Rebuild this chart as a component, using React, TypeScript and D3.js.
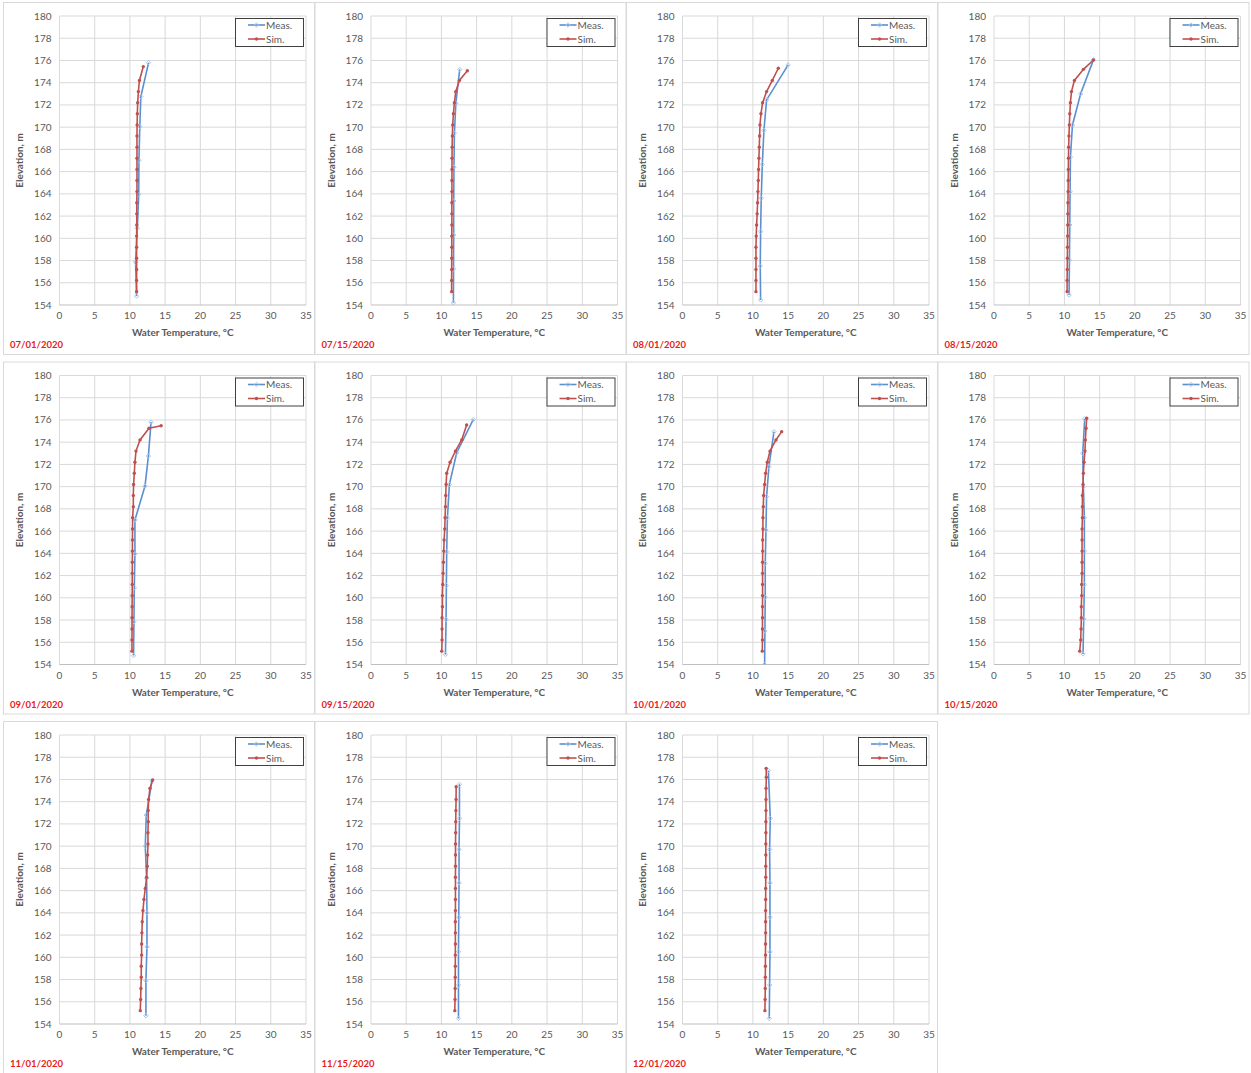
import React from "react";
import * as d3 from "d3";

const DATES = ["07/01/2020","07/15/2020","08/01/2020","08/15/2020","09/01/2020","09/15/2020","10/01/2020","10/15/2020","11/01/2020","11/15/2020","12/01/2020"];

const X_TICKS = [0,5,10,15,20,25,30,35];
const Y_TICKS = [154,156,158,160,162,164,166,168,170,172,174,176,178,180];

// simulated layer elevations (bottom to top), base layers 155.2 .. 174.2
const BASE_LAYERS = [155.2,156.2,157.2,158.2,159.2,160.2,161.2,162.2,163.2,164.2,165.2,166.2,167.2,168.2,169.2,170.2,171.2,172.2,173.2,174.2];

const SIM_EXTRA_ELEV = [
  [175.45],
  [175.08],
  [175.3],
  [175.2,176.04],
  [175.25,175.48],
  [175.55],
  [174.95],
  [175.25,176.15],
  [175.2,175.95],
  [175.35],
  [175.2,176.2,177.0],
];

const SIM_TEMP = [
  [10.95,10.95,10.95,10.95,10.95,10.95,10.97,10.97,10.97,11.0,11.0,11.0,11.0,11.0,11.0,11.02,11.05,11.1,11.2,11.35,11.9],
  [11.45,11.45,11.46,11.46,11.47,11.47,11.48,11.48,11.48,11.49,11.49,11.5,11.5,11.52,11.55,11.6,11.7,11.84,12.03,12.55,13.68],
  [10.43,10.43,10.43,10.43,10.43,10.47,10.52,10.6,10.66,10.71,10.76,10.8,10.85,10.9,10.95,11.0,11.14,11.37,11.94,12.75,13.6],
  [10.38,10.38,10.4,10.42,10.43,10.45,10.47,10.48,10.5,10.52,10.53,10.55,10.57,10.6,10.64,10.7,10.76,10.85,11.0,11.42,12.7,14.12],
  [10.29,10.29,10.3,10.3,10.31,10.32,10.33,10.33,10.34,10.35,10.36,10.37,10.38,10.48,10.48,10.52,10.62,10.71,10.86,11.43,12.71,14.43],
  [10.05,10.09,10.09,10.09,10.14,10.14,10.19,10.24,10.28,10.33,10.38,10.47,10.52,10.57,10.61,10.66,10.75,11.23,11.98,12.88,13.58],
  [11.33,11.35,11.35,11.36,11.36,11.37,11.37,11.37,11.37,11.38,11.38,11.42,11.42,11.47,11.52,11.66,11.8,12.04,12.42,13.27,14.08],
  [12.17,12.31,12.36,12.4,12.4,12.45,12.45,12.5,12.5,12.5,12.5,12.5,12.55,12.55,12.55,12.64,12.69,12.78,12.92,12.97,13.07,13.16],
  [11.47,11.52,11.56,11.61,11.61,11.66,11.66,11.7,11.75,11.85,11.99,12.18,12.37,12.46,12.51,12.56,12.56,12.6,12.6,12.65,12.84,13.22],
  [11.9,11.93,11.95,11.96,11.97,11.97,11.98,11.98,11.98,11.99,11.99,11.99,11.99,12.0,12.0,12.0,12.02,12.03,12.05,12.08,12.09],
  [11.7,11.73,11.75,11.76,11.77,11.78,11.79,11.8,11.8,11.8,11.81,11.81,11.82,11.82,11.83,11.83,11.84,11.84,11.85,11.85,11.86,11.9,11.88],
];

const MEAS_ELEV = [
  [154.8,157.85,160.9,163.95,167.0,170.05,172.75,175.8],
  [154.2,157.25,160.3,163.35,166.4,169.45,172.15,175.2],
  [154.45,157.5,160.6,163.6,166.65,169.7,172.45,175.6],
  [154.9,158.05,161.2,164.2,167.3,170.2,173.0,176.05],
  [154.8,157.85,160.9,163.95,167.0,170.05,172.75,175.8],
  [154.9,158.05,161.1,164.15,167.2,170.2,173.05,176.05],
  [154.0,157.0,160.05,163.1,166.1,169.1,171.8,174.95],
  [154.95,158.1,161.2,164.2,167.2,170.0,173.0,176.1],
  [154.75,157.9,160.95,164.0,167.1,170.0,172.8,175.86],
  [154.5,157.5,160.5,163.6,166.7,169.7,172.5,175.56],
  [154.5,157.5,160.5,163.6,166.7,169.7,172.5,176.8],
];

const MEAS_TEMP = [
  [10.95,10.8,11.05,11.25,11.28,11.4,11.55,12.65],
  [11.7,11.72,11.74,11.75,11.78,11.84,12.05,12.6],
  [11.09,11.04,11.09,11.18,11.33,11.56,11.94,15.0],
  [10.66,10.71,10.76,10.8,10.85,11.14,12.3,14.12],
  [10.52,10.57,10.62,10.71,10.71,12.14,12.62,13.0],
  [10.57,10.66,10.7,10.75,10.85,11.13,12.17,14.53],
  [11.66,11.7,11.75,11.75,11.85,11.94,12.27,12.99],
  [12.64,12.74,12.83,12.83,12.83,12.69,12.6,12.88],
  [12.27,12.27,12.42,12.42,12.37,12.18,12.32,13.13],
  [12.42,12.42,12.42,12.46,12.5,12.5,12.56,12.56],
  [12.32,12.37,12.42,12.42,12.42,12.37,12.46,12.2],
];

const MEAS_COLOR = "#5b8fd0";
const MEAS_MARK = "#a9c8ea";
const SIM_COLOR = "#c0504d";
const GRID = "#d9d9d9";
const TEXT = "#595959";
const FONT = "Lato, 'Open Sans', sans-serif";

const COL_W = 311.5;
const ROW_H = 359.5;
const PL = 59.5, PT = 16, PW = 246.5, PH = 289;

function Panel({ idx }: { idx: number }) {
  const col = idx % 4;
  const row = Math.floor(idx / 4);
  const ox = col * COL_W;
  const oy = row * ROW_H;
  const x = d3.scaleLinear().domain([0, 35]).range([PL, PL + PW]);
  const y = d3.scaleLinear().domain([154, 180]).range([PT + PH, PT]);

  const simElev = BASE_LAYERS.concat(SIM_EXTRA_ELEV[idx]);
  const simPts: [number, number][] = SIM_TEMP[idx].map((t, i) => [t, simElev[i]]);
  const measPts: [number, number][] = MEAS_TEMP[idx].map((t, i) => [t, MEAS_ELEV[idx][i]]);
  const line = d3.line<[number, number]>().x(d => x(d[0])).y(d => y(d[1]));
  const clipId = `clip${idx}`;

  return (
    <g transform={`translate(${ox},${oy})`}>
      <rect x={3.5} y={2.5} width={311} height={352} fill="#fff" stroke={GRID} strokeWidth={1} />
      <defs>
        <clipPath id={clipId}><rect x={PL} y={PT} width={PW} height={PH} /></clipPath>
      </defs>
      {X_TICKS.map(t => (
        <line key={"gx" + t} x1={x(t)} x2={x(t)} y1={PT} y2={PT + PH} stroke={GRID} strokeWidth={1} />
      ))}
      {Y_TICKS.map(t => (
        <line key={"gy" + t} x1={PL} x2={PL + PW} y1={y(t)} y2={y(t)} stroke={t === 154 ? "#bfbfbf" : GRID} strokeWidth={1} />
      ))}
      {Y_TICKS.map(t => (
        <text key={"ty" + t} x={PL - 8} y={y(t)} dy="0.35em" textAnchor="end" fontSize={10} fill={TEXT} fontFamily={FONT}>{t}</text>
      ))}
      {X_TICKS.map(t => (
        <text key={"tx" + t} x={x(t)} y={PT + PH + 14} textAnchor="middle" fontSize={10} fill={TEXT} fontFamily={FONT}>{t}</text>
      ))}
      <text x={PL + PW / 2} y={PT + PH + 31} textAnchor="middle" fontSize={10} fontWeight="bold" fill={TEXT} fontFamily={FONT}>Water Temperature, °C</text>
      <text transform={`translate(${23},${PT + PH / 2}) rotate(-90)`} textAnchor="middle" fontSize={10} fontWeight="bold" fill={TEXT} fontFamily={FONT}>Elevation, m</text>
      <text x={10} y={PT + PH + 43} fontSize={9.5} fontWeight="bold" fill="#e8201a" fontFamily={FONT}>{DATES[idx]}</text>

      <g clipPath={`url(#${clipId})`}>
        <path d={line(measPts) || ""} fill="none" stroke={MEAS_COLOR} strokeWidth={1.6} />
        {measPts.map((p, i) => (
          <path key={"m" + i} d={`M${x(p[0]) - 2.2},${y(p[1])}L${x(p[0])},${y(p[1]) - 2.2}L${x(p[0]) + 2.2},${y(p[1])}L${x(p[0])},${y(p[1]) + 2.2}Z`} fill="none" stroke={MEAS_MARK} strokeWidth={1} />
        ))}
        <path d={line(simPts) || ""} fill="none" stroke={SIM_COLOR} strokeWidth={1.6} />
        {simPts.map((p, i) => (
          <circle key={"s" + i} cx={x(p[0])} cy={y(p[1])} r={1.7} fill={SIM_COLOR} />
        ))}
      </g>

      <g>
        <rect x={235.5} y={18.5} width={68} height={28} fill="#fff" stroke="#404040" strokeWidth={1} />
        <line x1={248} x2={265} y1={25} y2={25} stroke={MEAS_COLOR} strokeWidth={1.6} />
        <path d={`M254.3,25L256.5,22.8L258.7,25L256.5,27.2Z`} fill="none" stroke={MEAS_MARK} strokeWidth={1} />
        <text x={266} y={25} dy="0.35em" fontSize={10} fill={TEXT} fontFamily={FONT}>Meas.</text>
        <line x1={248} x2={265} y1={39} y2={39} stroke={SIM_COLOR} strokeWidth={1.6} />
        <circle cx={256.5} cy={39} r={1.7} fill={SIM_COLOR} />
        <text x={266} y={39} dy="0.35em" fontSize={10} fill={TEXT} fontFamily={FONT}>Sim.</text>
      </g>
    </g>
  );
}

export default function App() {
  return (
    <svg width={1251} height={1073} style={{ position: "absolute", left: 0, top: 0, background: "#fff" }}>
      <rect x={0} y={0} width={1251} height={1073} fill="#fff" />
      {DATES.map((_, i) => <Panel key={i} idx={i} />)}
    </svg>
  );
}
